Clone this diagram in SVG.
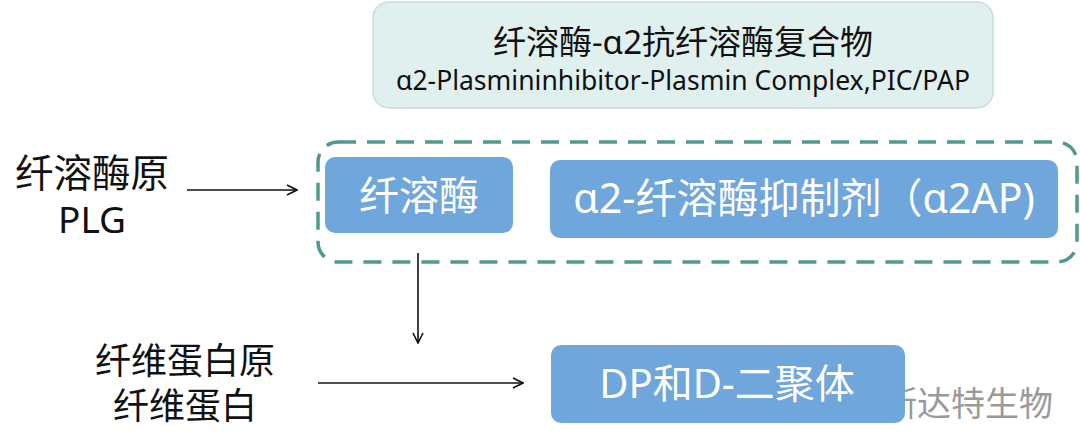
<svg xmlns="http://www.w3.org/2000/svg" width="1080" height="435" viewBox="0 0 1080 435">
<defs>
<style>
.t{font-family:"Noto Sans","Noto Sans CJK SC",sans-serif;}
.blk{fill:#111;}
.wt{fill:#fff;}
.box{fill:#6fa6db;}
.ln{stroke:#111;stroke-width:1.6;fill:none;}
</style>
<marker id="ah" viewBox="0 0 12 12" refX="11" refY="6" markerWidth="12" markerHeight="12" markerUnits="userSpaceOnUse" orient="auto">
<path d="M1,1 L11,6 L1,11" fill="none" stroke="#111" stroke-width="1.6"/>
</marker>
</defs>
<rect width="1080" height="435" fill="#fff"/>
<g id="pic">
<rect x="373" y="2" width="620" height="106" rx="16" fill="#dff0ef" stroke="#c9dcdc" stroke-width="1.5"/>
<text class="t blk" x="683" y="54" font-size="33" text-anchor="middle">纤溶酶-α2抗纤溶酶复合物</text>
<text class="t blk" x="683" y="90" font-size="26.5" text-anchor="middle">α2-Plasmininhibitor-Plasmin Complex,PIC/PAP</text>
</g>
<g id="group">
<rect x="318" y="142" width="759" height="120" rx="20" fill="none" stroke="#4e9a8e" stroke-width="3.5" stroke-dasharray="18 11"/>
</g>
<g id="plasmin">
<rect class="box" x="325" y="157" width="188" height="76" rx="10"/>
<text class="t wt" x="419" y="210" font-size="40" text-anchor="middle">纤溶酶</text>
</g>
<g id="a2ap">
<rect class="box" x="550" y="160" width="508" height="78" rx="10"/>
<text class="t wt" x="804" y="213" font-size="41" text-anchor="middle">α2-纤溶酶抑制剂（α2AP)</text>
</g>
<g id="plg">
<text class="t blk" x="92" y="187" font-size="38.5" text-anchor="middle">纤溶酶原</text>
<text class="t blk" x="92" y="233" font-size="37" text-anchor="middle">PLG</text>
</g>
<g id="fib">
<text class="t blk" x="185" y="374" font-size="36" text-anchor="middle">纤维蛋白原</text>
<text class="t blk" x="185" y="419" font-size="36" text-anchor="middle">纤维蛋白</text>
</g>
<g id="watermark">
<text class="t" x="968" y="416" font-size="34" text-anchor="middle" fill="#9a9a9a">斯达特生物</text>
</g>
<g id="dp">
<rect class="box" x="551" y="345" width="354" height="78" rx="10"/>
<text class="t wt" x="727" y="398" font-size="40" text-anchor="middle">DP和D-二聚体</text>
</g>
<g id="connectors">
<line class="ln" x1="187" y1="190" x2="297" y2="190" marker-end="url(#ah)"/>
<line class="ln" x1="418" y1="253" x2="418" y2="343" marker-end="url(#ah)"/>
<line class="ln" x1="318" y1="383" x2="523" y2="383" marker-end="url(#ah)"/>
</g>
</svg>
